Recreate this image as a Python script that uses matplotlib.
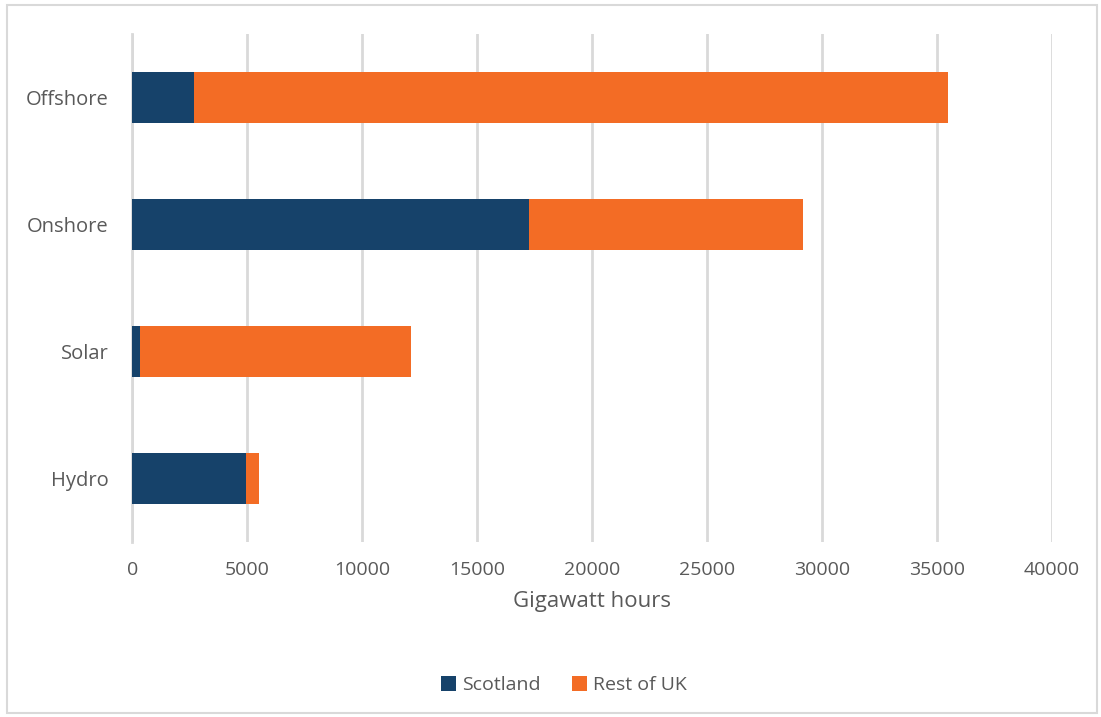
import matplotlib
matplotlib.use('Agg')
import matplotlib.pyplot as plt
from matplotlib.patches import Rectangle

plt.rcParams['font.family'] = ['Open Sans', 'DejaVu Sans']

categories = ['Hydro', 'Solar', 'Onshore', 'Offshore']
scotland = [4930, 330, 17260, 2680]
rest_of_uk = [560, 11790, 11900, 32820]
xticks = [0, 5000, 10000, 15000, 20000, 25000, 30000, 35000, 40000]

navy = '#16426a'
orange = '#f36c25'
grey_text = '#595959'

fig = plt.figure(figsize=(11.01, 7.17), dpi=100)
ax = fig.add_axes([0.1203, 0.244, 0.835, 0.7086])

pos = range(len(categories))
ax.barh(pos, scotland, height=0.4, color=navy, label='Scotland', zorder=3)
ax.barh(pos, rest_of_uk, left=scotland, height=0.4, color=orange,
        label='Rest of UK', zorder=3)

ax.set_xlim(0, 40000)
ax.set_ylim(-0.5, len(categories) - 0.5)
ax.set_xticks(xticks)
ax.set_xticklabels([str(t) for t in xticks])
ax.set_yticks(list(pos))
ax.set_yticklabels(categories)
ax.tick_params(axis='both', length=0, colors=grey_text)
ax.tick_params(axis='x', pad=14, labelsize=14)
ax.tick_params(axis='y', pad=17, labelsize=14.5)

ax.grid(axis='x', color='#d9d9d9', linewidth=2, zorder=0)
for side in ['top', 'right', 'bottom']:
    ax.spines[side].set_visible(False)
ax.spines['left'].set_color('#d9d9d9')
ax.spines['left'].set_linewidth(2)

ax.set_xlabel('Gigawatt hours', fontsize=16, color=grey_text, labelpad=8)

fig.legend(loc='center', bbox_to_anchor=(0.512, 0.045), ncol=2, frameon=False,
           fontsize=14, labelcolor=grey_text, handlelength=0.8, handleheight=0.8,
           handletextpad=0.3, columnspacing=1.6)

fig.patches.append(Rectangle((7 / 1101, 4 / 717), 1090 / 1101, 708 / 717,
                             transform=fig.transFigure, fill=False,
                             edgecolor='#d9d9d9', linewidth=1.5))

fig.savefig('out.png', dpi=100)
